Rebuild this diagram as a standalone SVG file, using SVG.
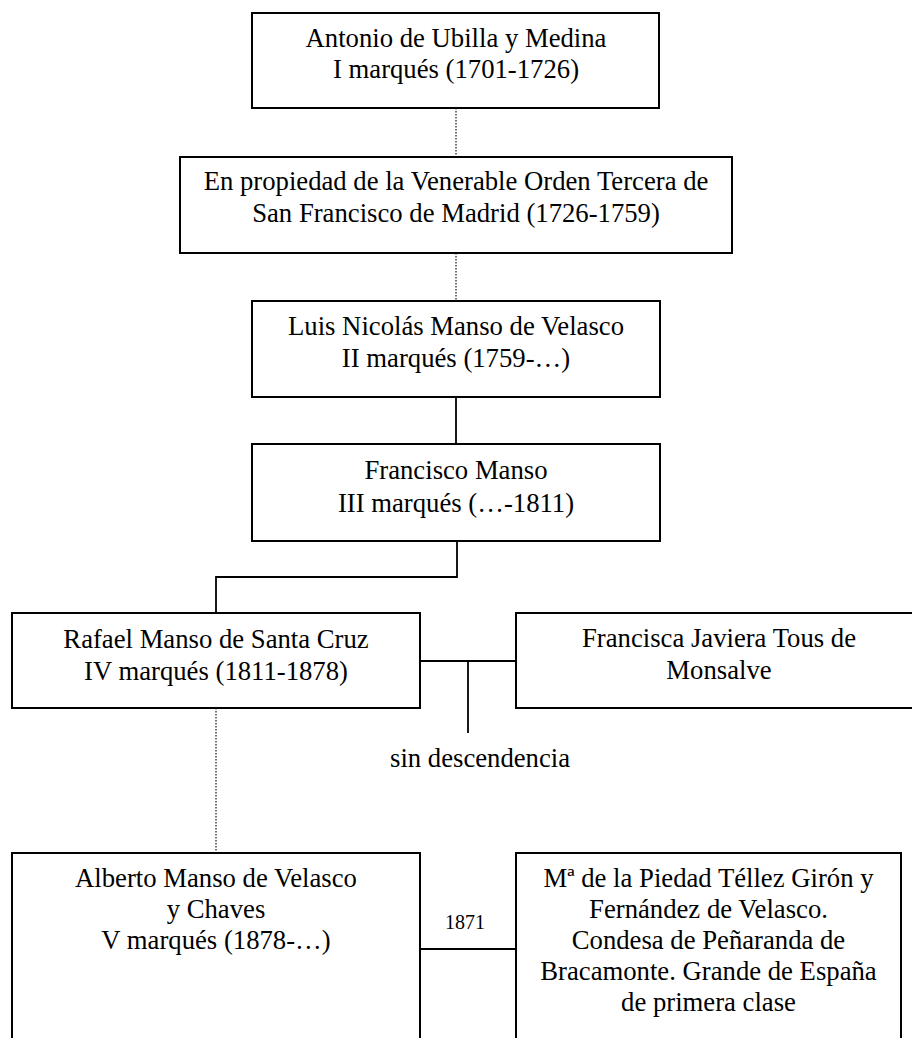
<svg xmlns="http://www.w3.org/2000/svg" width="912" height="1038" viewBox="0 0 912 1038">
<style>
  .box { fill: #ffffff; stroke: #000000; stroke-width: 2; }
  .t { font-family: "Liberation Serif", "Times New Roman", serif; font-size: 26.7px; fill: #000000; text-anchor: middle; }
  .small { font-family: "Liberation Serif", "Times New Roman", serif; font-size: 20px; fill: #000000; }
  .solid { fill: none; stroke: #000000; stroke-width: 1.8; }
  .dotted { fill: none; stroke: #333333; stroke-width: 1.4; stroke-dasharray: 1.4 1.6; }
</style>
<rect width="912" height="1038" fill="#ffffff"/>
<g id="connectors">
  <line class="dotted" x1="456" y1="108" x2="456" y2="157"/>
  <line class="dotted" x1="456" y1="253" x2="456" y2="301"/>
  <line class="solid" x1="456" y1="397" x2="456" y2="444"/>
  <polyline class="solid" points="457,541 457,577 216,577 216,613"/>
  <line class="solid" x1="420" y1="661" x2="516" y2="661"/>
  <line class="solid" x1="468" y1="661" x2="468" y2="733"/>
  <line class="dotted" x1="216" y1="708" x2="216" y2="853"/>
  <line class="solid" x1="420" y1="949" x2="516" y2="949"/>
  <text class="small" x="445" y="929">1871</text>
  <text class="t" x="390" y="767" style="text-anchor:start">sin descendencia</text>
</g>
<g id="node1">
  <rect class="box" x="252" y="13" width="407" height="95"/>
  <text class="t" x="456" y="47">Antonio de Ubilla y Medina</text>
  <text class="t" x="456" y="78">I marqués (1701-1726)</text>
</g>
<g id="node2">
  <rect class="box" x="180" y="157" width="552" height="96"/>
  <text class="t" x="456" y="190">En propiedad de la Venerable Orden Tercera de</text>
  <text class="t" x="456" y="222">San Francisco de Madrid (1726-1759)</text>
</g>
<g id="node3">
  <rect class="box" x="252" y="301" width="408" height="96"/>
  <text class="t" x="456" y="335">Luis Nicolás Manso de Velasco</text>
  <text class="t" x="456" y="367">II marqués (1759-…)</text>
</g>
<g id="node4">
  <rect class="box" x="252" y="444" width="408" height="97"/>
  <text class="t" x="456" y="479">Francisco Manso</text>
  <text class="t" x="456" y="512">III marqués (…-1811)</text>
</g>
<g id="node5">
  <rect class="box" x="12" y="613" width="408" height="95"/>
  <text class="t" x="216" y="648">Rafael Manso de Santa Cruz</text>
  <text class="t" x="216" y="680">IV marqués (1811-1878)</text>
</g>
<g id="node6">
  <rect class="box" x="516" y="613" width="406" height="95"/>
  <text class="t" x="719" y="647">Francisca Javiera Tous de</text>
  <text class="t" x="719" y="679">Monsalve</text>
</g>
<g id="node7">
  <rect class="box" x="12" y="853" width="408" height="200"/>
  <text class="t" x="216" y="887">Alberto Manso de Velasco</text>
  <text class="t" x="216" y="918">y Chaves</text>
  <text class="t" x="216" y="949">V marqués (1878-…)</text>
</g>
<g id="node8">
  <rect class="box" x="516" y="853" width="385" height="200"/>
  <text class="t" x="708.5" y="887">Mª de la Piedad Téllez Girón y</text>
  <text class="t" x="708.5" y="918">Fernández de Velasco.</text>
  <text class="t" x="708.5" y="949">Condesa de Peñaranda de</text>
  <text class="t" x="708.5" y="980">Bracamonte. Grande de España</text>
  <text class="t" x="708.5" y="1011">de primera clase</text>
</g>
</svg>
